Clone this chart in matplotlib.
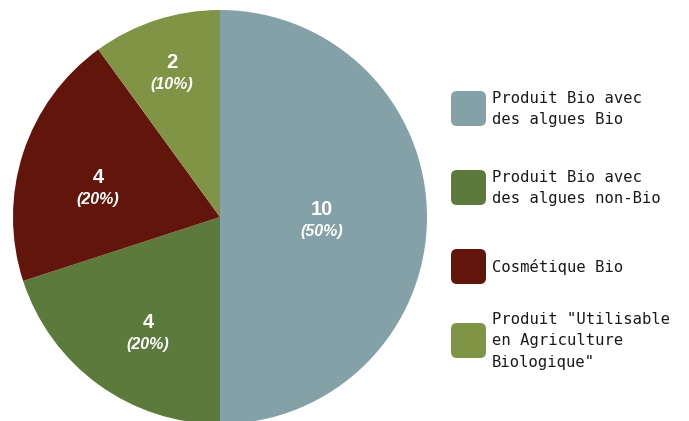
import numpy as np
import matplotlib
matplotlib.use("Agg")
import matplotlib.pyplot as plt
from matplotlib.patches import FancyBboxPatch

categories = [
    "Produit Bio avec\ndes algues Bio",
    "Produit Bio avec\ndes algues non-Bio",
    "Cosmétique Bio",
    "Produit \"Utilisable\nen Agriculture\nBiologique\"",
]
values = [10, 4, 4, 2]
colors = ["#83a1a6", "#5b7a3b", "#62150b", "#7f9445"]

# label placement: fraction of radius and angular nudge (degrees)
label_r = [0.49, 0.645, 0.61, 0.75]
label_nudge = [0, 3.3, 3, 0]


def main():
    fig = plt.figure(figsize=(6.89, 4.21), dpi=100)
    W, H = 689, 421
    cx, cy, r = 220, 217, 207
    ax = fig.add_axes([(cx - r) / W, (H - cy - r) / H, 2 * r / W, 2 * r / H])
    wedges, _ = ax.pie(values, colors=colors, startangle=90, counterclock=False,
                       radius=1.0, wedgeprops=dict(linewidth=0))
    ax.set_xlim(-1, 1)
    ax.set_ylim(-1, 1)
    ax.set_aspect("equal")

    total = sum(values)
    for w, v, lr, nd in zip(wedges, values, label_r, label_nudge):
        ang = np.deg2rad((w.theta1 + w.theta2) / 2 + nd)
        x, y = lr * np.cos(ang), lr * np.sin(ang)
        ax.text(x, y + 0.034, str(v), ha="center", va="center", color="white",
                fontsize=14.5, fontweight="bold", family="Liberation Sans")
        ax.text(x, y - 0.072, "(%d%%)" % round(100 * v / total), ha="center",
                va="center", color="white", fontsize=11.5, fontweight="bold",
                style="italic", family="Liberation Sans")

    # legend drawn in pixel coordinates
    lg = fig.add_axes([0, 0, 1, 1])
    lg.set_xlim(0, W)
    lg.set_ylim(H, 0)
    lg.axis("off")
    rows = [108, 187, 266, 340]
    for cat, col, yc in zip(categories, colors, rows):
        lg.add_patch(FancyBboxPatch((451, yc - 17), 35, 35,
                                    boxstyle="round,pad=0,rounding_size=6",
                                    fc=col, ec="none"))
        lg.text(492, yc + 1, cat, ha="left", va="center", fontsize=11.2,
                family="DejaVu Sans Mono", color="#1a1a1a", linespacing=1.55)

    fig.savefig("out.png", dpi=100)


if __name__ == "__main__":
    main()
